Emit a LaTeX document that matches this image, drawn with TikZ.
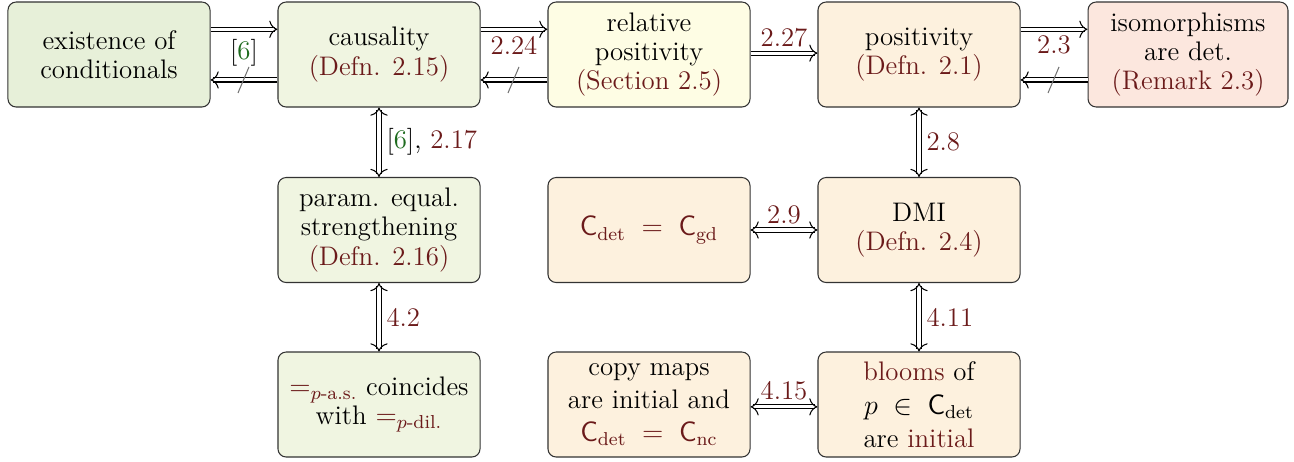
\documentclass[tikz,border=0pt]{standalone}
\usepackage{amsmath}
\usetikzlibrary{arrows.meta,calc,decorations.markings}
\definecolor{lred}{HTML}{6B1A1A}
\definecolor{cgreen}{HTML}{1E6B1E}
\definecolor{fgA}{HTML}{E7F0D9}
\definecolor{fgB}{HTML}{F0F5E1}
\definecolor{fyel}{HTML}{FEFDE4}
\definecolor{forg}{HTML}{FDF1DE}
\definecolor{fpink}{HTML}{FCE7DE}
\newcommand{\rr}[1]{\textcolor{lred}{#1}}
\newcommand{\cg}[1]{\textcolor{cgreen}{#1}}
\begin{document}
\begin{tikzpicture}[x=0.4286pt,y=-0.4286pt, line width=0.45pt,
  every node/.style={font=\fontsize{11.5}{12.6}\selectfont},
  box/.style={draw=black!80, rounded corners=3.5pt, minimum width=86.6pt, minimum height=45pt, inner sep=0pt, align=center},
  tipR/.tip={Computer Modern Rightarrow[length=3.5pt,width=7.4pt]},
  dbl/.style={double, double distance=1.3pt},
  imp/.style={dbl, shorten >=1.2pt, postaction={decorate, decoration={markings, mark=at position 1 with {\arrow[line width=0.45pt]{tipR}}}}},
  bimp/.style={dbl, shorten >=1.2pt, shorten <=1.2pt, postaction={decorate, decoration={markings, mark=at position 0 with {\arrowreversed[line width=0.45pt]{tipR}}, mark=at position 1 with {\arrow[line width=0.45pt]{tipR}}}}},
  lab/.style={text=lred, inner sep=1pt},
  neg/.style={draw=black!55}]
\useasboundingbox (0,0) rectangle (1294,461);
\node[box, fill=fgA] (ex) at (109,54.5) {existence of\\conditionals};
\node[box, fill=fgB] (caus) at (379,54.5) {causality\\\rr{(Defn. 2.15)}};
\node[box, fill=fyel] (rel) at (649,54.5) {relative\\positivity\\\rr{(Section 2.5)}};
\node[box, fill=forg] (pos) at (919,54.5) {positivity\\\rr{(Defn. 2.1)}};
\node[box, fill=fpink, minimum width=85.7pt] (iso) at (1188,54.5) {isomorphisms\\are det.\\\rr{(Remark 2.3)}};
\node[box, fill=fgB] (par) at (379,230) {param. equal.\\strengthening\\\rr{(Defn. 2.16)}};
\node[box, fill=forg] (cgd) at (649,230) {$\rr{\mathsf{C}_{\mathrm{det}} \;=\; \mathsf{C}_{\mathrm{gd}}}$};
\node[box, fill=forg] (dmi) at (919,230) {DMI\\\rr{(Defn. 2.4)}};
\node[box, fill=fgB] (eq) at (379,404.5) {$\rr{=_{p\text{-a.s.}}}$ coincides\\with $\rr{=_{p\text{-dil.}}}$};
\node[box, fill=forg] (copy) at (649,404.5) {copy maps\\[1.5pt]are initial and\\[1.5pt]$\rr{\mathsf{C}_{\mathrm{det}} \;=\; \mathsf{C}_{\mathrm{nc}}}$};
\node[box, fill=forg] (bloom) at (919,404.5) {\rr{blooms} of\\[2pt]$p \;\in\; \mathsf{C}_{\mathrm{det}}$\\[1.5pt]are \rr{initial}};
% top row
\foreach \a/\b/\n in {ex/caus/A, caus/rel/B, pos/iso/C}{
  \draw[imp] ([yshift=10.8pt]\a.east) -- ([yshift=10.8pt]\b.west);
  \draw[imp] ([yshift=-10.9pt]\b.west) -- ([yshift=-10.9pt]\a.east);
  \coordinate (m\n) at ($([yshift=-10.9pt]\a.east)!0.5!([yshift=-10.9pt]\b.west)$);
  \draw[neg] ($(m\n)+(5,-13)$) -- ($(m\n)+(-6,13)$);
}
\node[inner sep=0pt] (l6) at ($(ex.east)!0.5!(caus.west)+(0,-2)$) {[\cg{6}]};
\node[lab] (l224) at ($(caus.east)!0.5!(rel.west)+(0,-9.5)$) {2.24};
\node[lab] (l23) at ($(pos.east)!0.5!(iso.west)+(0,-9.5)$) {2.3};
\draw[imp] ([yshift=0.6pt]rel.east) -- node[lab, above=1.5pt] {2.27} ([yshift=0.6pt]pos.west);
% verticals
\draw[bimp] (caus) -- node[right=2pt, inner sep=1pt] {[\cg{6}], \rr{2.17}} (par);
\draw[bimp] (par) -- node[lab, right=2pt] {4.2} (eq);
\draw[bimp] (pos) -- node[lab, right=2pt] {2.8} (dmi);
\draw[bimp] (dmi) -- node[lab, right=2pt] {4.11} (bloom);
% horizontals
\draw[bimp] (cgd) -- node[lab, above=1.5pt] {2.9} (dmi);
\draw[bimp] ([yshift=-1pt]copy.east) -- node[lab, above=1.5pt] {4.15} ([yshift=-1pt]bloom.west);
\end{tikzpicture}
\end{document}
